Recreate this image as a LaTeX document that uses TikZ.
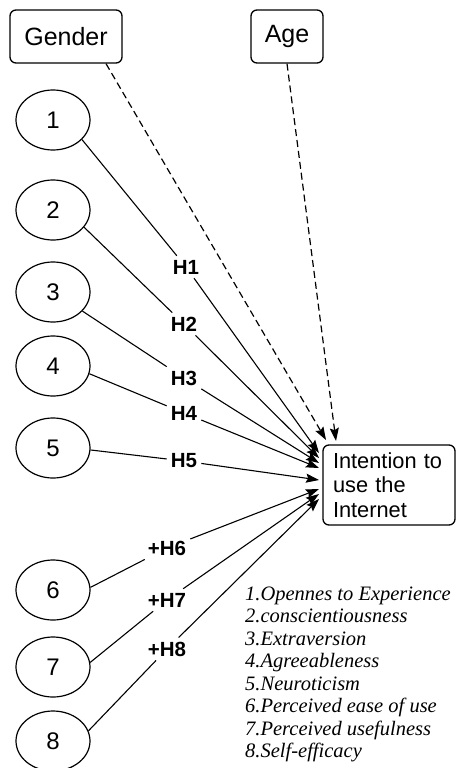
\documentclass[tikz,border=0pt]{standalone}
\usepackage{fontspec}
\setmainfont{Liberation Sans}
\newfontfamily\legfont{Liberation Serif}
\usetikzlibrary{arrows.meta,shapes.geometric}
\begin{document}
\begin{tikzpicture}[x=1pt,y=-1pt,
  box/.style={draw, rounded corners=6pt, line width=1.3pt, inner sep=0pt, font=\fontsize{25}{28}\selectfont},
  latent/.style={draw, ellipse, line width=1.2pt, minimum width=74pt, minimum height=60pt, inner sep=0pt, font=\fontsize{24}{26}\selectfont},
  hyp/.style={inner sep=4pt, font=\fontsize{20.5}{22}\selectfont\bfseries},
  link/.style={line width=1.1pt},
  arr/.style={line width=1.1pt, -{Stealth[length=13pt,width=9pt,inset=2pt]}},
  mod/.style={arr, line width=1.2pt, dash pattern=on 7pt off 4pt},
  legend/.style={anchor=base west, inner sep=0pt, font=\legfont\itshape\fontsize{20.5}{22}\selectfont}
]
\useasboundingbox (0,0) rectangle (462,768);

% moderators
\node[box, minimum width=112pt, minimum height=53pt] (gender) at (66,36.5) {Gender};
\node[box, minimum width=72pt, minimum height=53pt] (age) at (287,36.5) {Age};

% outcome
\node[box, align=left, text width=112pt, inner xsep=10pt, minimum height=80pt,
      font=\fontsize{21.8}{24.5}\selectfont] (int) at (389,485)
      {Intention to\\use the\\Internet};

% latent constructs
\node[latent] (e1) at (53,120) {1};
\node[latent] (e2) at (53,210) {2};
\node[latent] (e3) at (53,292) {3};
\node[latent] (e4) at (53,366) {4};
\node[latent] (e5) at (53,448) {5};
\node[latent] (e6) at (53,590) {6};
\node[latent] (e7) at (53,667) {7};
\node[latent] (e8) at (53,741) {8};

% hypothesis labels
\node[hyp] (h1) at (186,267) {H1};
\node[hyp] (h2) at (184,324) {H2};
\node[hyp] (h3) at (184,378) {H3};
\node[hyp] (h4) at (184,413) {H4};
\node[hyp] (h5) at (184,461) {H5};
\node[hyp] (h6) at (167,548) {+H6};
\node[hyp] (h7) at (167,600) {+H7};
\node[hyp] (h8) at (167,649) {+H8};

% arrow end points
\coordinate (t1) at (319,453);
\coordinate (t2) at (319,458);
\coordinate (t3) at (319,463);
\coordinate (t4) at (319,468);
\coordinate (t5) at (319,480);
\coordinate (t6) at (319,489);
\coordinate (t7) at (319,494);
\coordinate (t8) at (319,499);
\coordinate (tg) at (326,440);
\coordinate (ta) at (336,441);

% paths
\draw[link] (e1.-34) -- (h1); \draw[arr] (h1) -- (t1);
\draw[link] (e2.-29) -- (h2); \draw[arr] (h2) -- (t2);
\draw[link] (e3.-33) -- (h3); \draw[arr] (h3) -- (t3);
\draw[link] (e4.-12) -- (h4); \draw[arr] (h4) -- (t4);
\draw[link] (e5.-3)  -- (h5); \draw[arr] (h5) -- (t5);
\draw[link] (e6.4)   -- (h6); \draw[arr] (h6) -- (t6);
\draw[link] (e7.7)   -- (h7); \draw[arr] (h7) -- (t7);
\draw[link] (e8.16)  -- (h8); \draw[arr] (h8) -- (t8);

\draw[mod] ([xshift=40pt]gender.south) -- (tg);
\draw[mod] (age.south) -- (ta);

% legend
\node[legend] (l1) at (245,600) {1.Opennes to Experience};
\node[legend] (l2) at (245,622.5) {2.conscientiousness};
\node[legend] (l3) at (245,645) {3.Extraversion};
\node[legend] (l4) at (245,667.5) {4.Agreeableness};
\node[legend] (l5) at (245,690) {5.Neuroticism};
\node[legend] (l6) at (245,712.5) {6.Perceived ease of use};
\node[legend] (l7) at (245,735) {7.Perceived usefulness};
\node[legend] (l8) at (245,757) {8.Self-efficacy};
\end{tikzpicture}
\end{document}
